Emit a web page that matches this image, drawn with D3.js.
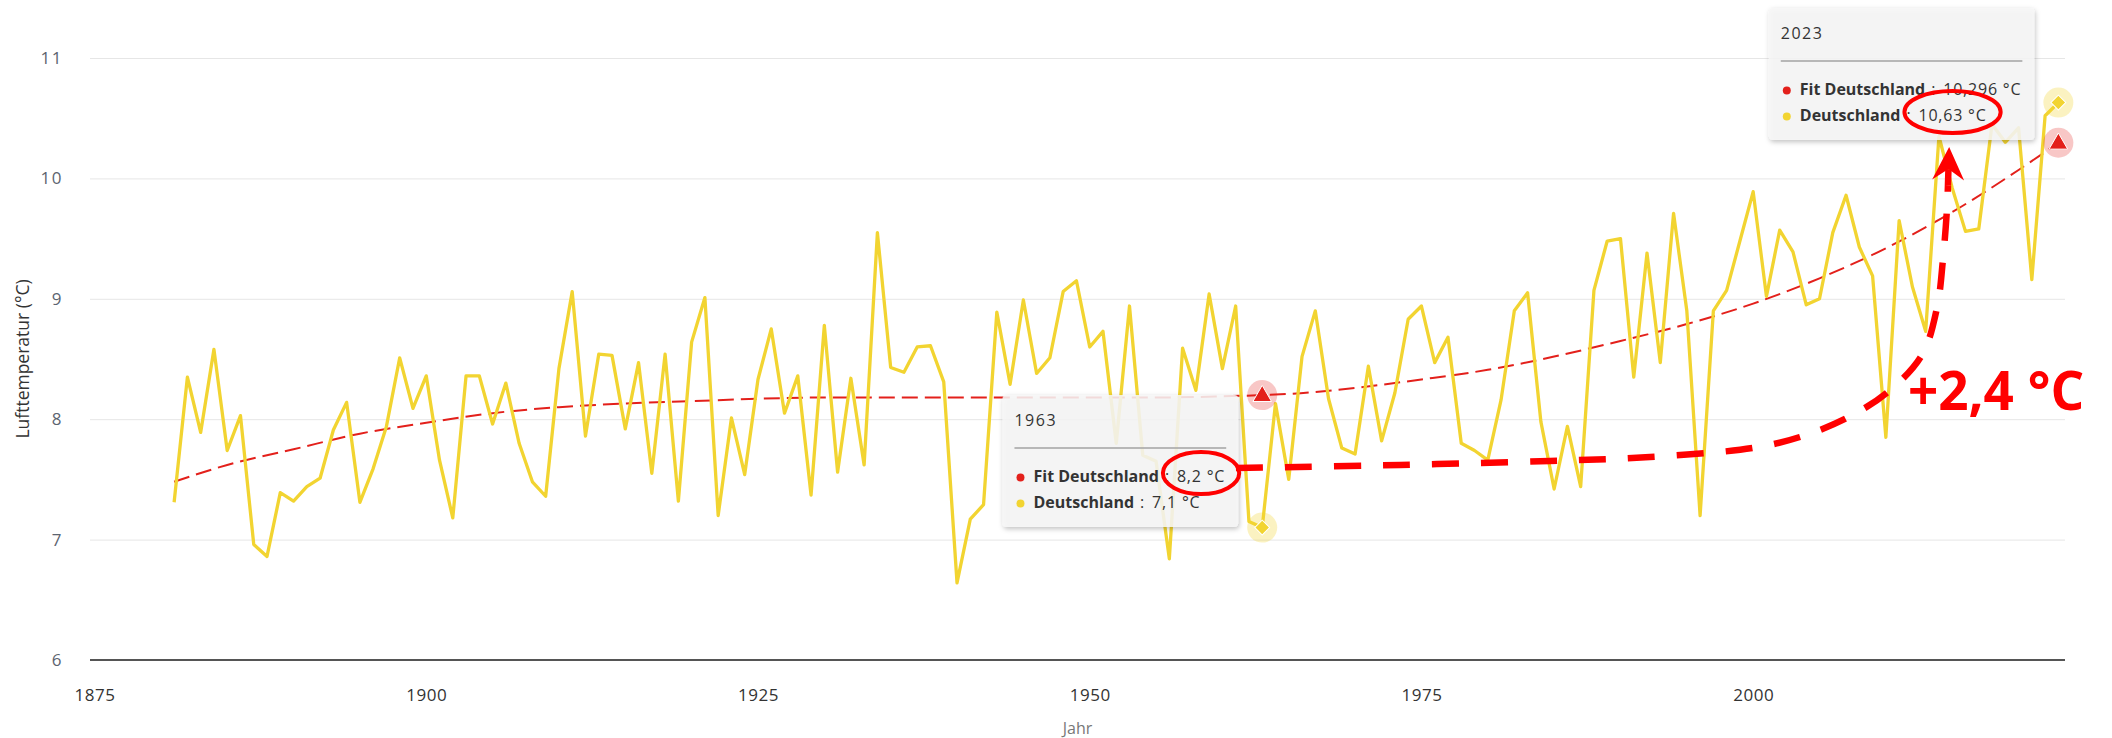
<!DOCTYPE html>
<html>
<head>
<meta charset="utf-8">
<script src="https://cdn.jsdelivr.net/npm/d3@7"></script>
<style>
  body { margin: 0; background: #ffffff; }
  svg { display: block; font-family: "Open Sans", "Noto Sans", sans-serif; }
</style>
</head>
<body>
<svg id="chart" width="2112" height="738"></svg>
<script>
// Annual mean air temperature in Germany (°C), 1881–2023
const firstYear = 1881;
const temperatures = [
  7.31, 8.35, 7.89, 8.58, 7.74, 8.03, 6.96, 6.86, 7.39, 7.32,   // 1881–1890
  7.44, 7.51, 7.91, 8.14, 7.31, 7.59, 7.94, 8.51, 8.09, 8.36,   // 1891–1900
  7.66, 7.18, 8.36, 8.36, 7.96, 8.30, 7.80, 7.48, 7.36, 8.42,   // 1901–1910
  9.06, 7.86, 8.54, 8.53, 7.92, 8.47, 7.55, 8.54, 7.32, 8.64,   // 1911–1920
  9.01, 7.20, 8.01, 7.54, 8.33, 8.75, 8.05, 8.36, 7.37, 8.78,   // 1921–1930
  7.56, 8.34, 7.62, 9.55, 8.43, 8.39, 8.60, 8.61, 8.31, 6.64,   // 1931–1940
  7.17, 7.29, 8.89, 8.29, 8.99, 8.38, 8.51, 9.06, 9.15, 8.60,   // 1941–1950
  8.73, 7.80, 8.94, 7.70, 7.65, 6.84, 8.59, 8.24, 9.04, 8.42,   // 1951–1960
  8.94, 7.15, 7.1,  8.13, 7.50, 8.52, 8.90, 8.17, 7.76, 7.71,   // 1961–1970
  8.44, 7.82, 8.22, 8.83, 8.94, 8.47, 8.68, 7.80, 7.74, 7.66,   // 1971–1980
  8.16, 8.90, 9.05, 7.98, 7.42, 7.94, 7.44, 9.07, 9.48, 9.50,   // 1981–1990
  8.35, 9.38, 8.47, 9.71, 8.90, 7.20, 8.90, 9.07, 9.48, 9.89,   // 1991–2000
  9.02, 9.57, 9.39, 8.95, 9.00, 9.55, 9.86, 9.43, 9.19, 7.85,   // 2001–2010
  9.65, 9.10, 8.73, 10.35, 9.92, 9.56, 9.58, 10.45, 10.30, 10.42, // 2011–2020
  9.16, 10.52, 10.63                                              // 2021–2023
];

// Fitted trend ("Fit Deutschland")
const fitYears  = [1881, 1885, 1890, 1895, 1900, 1905, 1910, 1915, 1920, 1925, 1930,
                   1935, 1940, 1945, 1950, 1955, 1960, 1963, 1965, 1970, 1975, 1980,
                   1985, 1990, 1995, 2000, 2005, 2010, 2015, 2020, 2023];
const fitValues = [7.48, 7.62, 7.75, 7.88, 7.97, 8.05, 8.10, 8.13, 8.15, 8.17, 8.18,
                   8.18, 8.18, 8.18, 8.18, 8.18, 8.19, 8.2, 8.21, 8.26, 8.33, 8.41,
                   8.52, 8.65, 8.79, 8.96, 9.17, 9.42, 9.72, 10.07, 10.296];

const yTicks = [6, 7, 8, 9, 10, 11];
const xTicks = [1875, 1900, 1925, 1950, 1975, 2000];

// Highlighted years with tooltips
const tooltipYears = [1963, 2023];

// Hand-drawn annotation arrow (year, °C) and its tip
const arrowPath = [
  [1961.02, 7.595], [1973.38, 7.620], [1984.68, 7.653], [1992.22, 7.686],
  [1999.98, 7.761], [2003.52, 7.852], [2007.06, 8.010], [2010.15, 8.226],
  [2012.72, 8.533], [2013.85, 8.924], [2014.30, 9.322], [2014.60, 9.738],
  [2014.68, 9.945]
];
const arrowTip = [2014.77, 10.26];
const deltaLabelPos = [2011.66, 8.08];

// ---------------------------------------------------------------
const RED = "#e3201b";
const YELLOW = "#f2d431";
const ANNOT = "#ff0000";

const svg = d3.select("#chart");
const plot = { left: 90, right: 2065, top: 58, bottom: 660 };

const x = d3.scaleLinear().domain([1874.66, 2023.5]).range([plot.left, plot.right]);
const y = d3.scaleLinear().domain([6, 11]).range([plot.bottom, plot.top]);

const defs = svg.append("defs");
const shadow = defs.append("filter").attr("id", "shadow")
  .attr("x", "-10%").attr("y", "-10%").attr("width", "125%").attr("height", "130%");
shadow.append("feDropShadow").attr("dx", 1).attr("dy", 2)
  .attr("stdDeviation", 2.5).attr("flood-color", "#000").attr("flood-opacity", 0.28);

// Y axis with grid lines
const yAxis = svg.append("g")
  .attr("transform", `translate(${plot.left},0)`)
  .call(d3.axisLeft(y).tickValues(yTicks).tickFormat(d3.format("d"))
    .tickSize(-(plot.right - plot.left)).tickPadding(27));
yAxis.select(".domain").remove();
yAxis.selectAll(".tick line").attr("stroke", "#e6e6e6").attr("stroke-width", 1);
yAxis.selectAll(".tick text")
  .attr("fill", "#5c6470").attr("font-size", 17).attr("letter-spacing", "1.5px")
  .attr("font-family", "'Open Sans', sans-serif");

// X axis
const xAxis = svg.append("g")
  .attr("transform", `translate(0,${plot.bottom})`)
  .call(d3.axisBottom(x).tickValues(xTicks).tickSize(0).tickPadding(29).tickFormat(d3.format("d")));
xAxis.select(".domain").remove();
xAxis.selectAll(".tick text")
  .attr("fill", "#333").attr("font-size", 17).attr("letter-spacing", "0.5px")
  .attr("font-family", "'Open Sans', sans-serif");

svg.append("line")
  .attr("x1", plot.left).attr("x2", plot.right)
  .attr("y1", y(6)).attr("y2", y(6))
  .attr("stroke", "#555").attr("stroke-width", 2);

// Axis titles
svg.append("text")
  .attr("transform", `translate(22,${(plot.top + plot.bottom) / 2}) rotate(-90)`)
  .attr("text-anchor", "middle").attr("dominant-baseline", "central")
  .attr("font-size", 17.5).attr("fill", "#333")
  .text("Lufttemperatur (°C)");
svg.append("text")
  .attr("x", (plot.left + plot.right) / 2).attr("y", 734)
  .attr("text-anchor", "middle").attr("font-size", 16).attr("fill", "#777")
  .text("Jahr");

// Series
const series = temperatures.map((v, i) => ({ year: firstYear + i, value: v }));
const fitSeries = fitYears.map((yr, i) => ({ year: yr, value: fitValues[i] }));

svg.append("path")
  .datum(fitSeries)
  .attr("fill", "none").attr("stroke", RED).attr("stroke-width", 2)
  .attr("stroke-dasharray", "16 7")
  .attr("d", d3.line().x(d => x(d.year)).y(d => y(d.value)).curve(d3.curveMonotoneX));

svg.append("path")
  .datum(series)
  .attr("fill", "none").attr("stroke", YELLOW).attr("stroke-width", 3.3)
  .attr("stroke-linejoin", "round")
  .attr("d", d3.line().x(d => x(d.year)).y(d => y(d.value)));

// Tooltips
const fmtC = v => String(v).replace(".", ",") + " °C";
const tipLayer = svg.append("g");

function drawTooltip(year, top, circledRow) {
  const fitV = fitValues[fitYears.indexOf(year)];
  const dataV = temperatures[year - firstYear];
  const g = tipLayer.append("g");
  const box = g.append("rect").attr("rx", 4).attr("ry", 4)
    .attr("fill", "rgba(247,247,247,0.86)").attr("filter", "url(#shadow)");
  g.append("text").attr("x", 12).attr("y", 31)
    .attr("font-size", 16).attr("letter-spacing", "1.5px").attr("fill", "#333")
    .text(year);

  const rows = [
    { name: "Fit Deutschland", color: RED, value: fitV },
    { name: "Deutschland", color: YELLOW, value: dataV }
  ];
  let maxEnd = 0;
  const valueBoxes = [];
  rows.forEach((r, i) => {
    const base = 87 + i * 26;
    g.append("circle").attr("cx", 18).attr("cy", base - 4.5).attr("r", 4).attr("fill", r.color);
    const lab = g.append("text").attr("x", 31).attr("y", base)
      .attr("font-size", 16).attr("font-weight", 700).attr("fill", "#333").text(r.name);
    const lw = lab.node().getComputedTextLength();
    g.append("text").attr("x", 31 + lw + 6).attr("y", base)
      .attr("font-size", 16).attr("fill", "#333").text(":");
    const vx = 31 + lw + 18;
    const val = g.append("text").attr("x", vx).attr("y", base)
      .attr("font-size", 16).attr("letter-spacing", "0.8px").attr("fill", "#333")
      .text(fmtC(r.value));
    const vw = val.node().getComputedTextLength();
    maxEnd = Math.max(maxEnd, vx + vw);
    valueBoxes.push({ x: vx, w: vw, base });
  });
  const w = maxEnd + 13;
  box.attr("width", w).attr("height", 132);
  g.append("line").attr("x1", 12).attr("x2", w - 12).attr("y1", 53).attr("y2", 53)
    .attr("stroke", "#a3a3a3").attr("stroke-width", 1.5);

  const vb = valueBoxes[circledRow];
  g.append("ellipse")
    .attr("cx", vb.x + vb.w / 2).attr("cy", vb.base - 9)
    .attr("rx", vb.w / 2 + 14).attr("ry", 21)
    .attr("fill", "none").attr("stroke", ANNOT).attr("stroke-width", 4);

  const left = x(year) - 24 - w;
  g.attr("transform", `translate(${left},${top})`);
}

drawTooltip(tooltipYears[0], y(fitValues[fitYears.indexOf(tooltipYears[0])]), 0);
drawTooltip(tooltipYears[1], 8, 1);

// Hover markers
const markers = svg.append("g");
tooltipYears.forEach(yr => {
  const px = x(yr);
  const fy = y(fitValues[fitYears.indexOf(yr)]);
  const dy = y(temperatures[yr - firstYear]);
  markers.append("circle").attr("cx", px).attr("cy", fy).attr("r", 15)
    .attr("fill", RED).attr("fill-opacity", 0.25);
  markers.append("path").attr("transform", `translate(${px},${fy + 1})`)
    .attr("d", d3.symbol(d3.symbolTriangle, 150)())
    .attr("fill", RED).attr("stroke", "#fff").attr("stroke-width", 1);
  markers.append("circle").attr("cx", px).attr("cy", dy).attr("r", 15)
    .attr("fill", YELLOW).attr("fill-opacity", 0.3);
  markers.append("path").attr("transform", `translate(${px},${dy}) rotate(45)`)
    .attr("d", d3.symbol(d3.symbolSquare, 110)())
    .attr("fill", YELLOW).attr("stroke", "#fff").attr("stroke-width", 1);
});

// Annotation arrow
svg.append("path")
  .datum(arrowPath)
  .attr("fill", "none").attr("stroke", ANNOT).attr("stroke-width", 6.5)
  .attr("stroke-dasharray", "27 22")
  .attr("d", d3.line().x(d => x(d[0])).y(d => y(d[1])).curve(d3.curveCatmullRom.alpha(0.5)));

(function arrowHead() {
  const tx = x(arrowTip[0]), ty = y(arrowTip[1]);
  const last = arrowPath[arrowPath.length - 1];
  const lx = x(last[0]), ly = y(last[1]);
  const ang = Math.atan2(ty - ly, tx - lx);
  const pts = [[0, 0], [-33, -16], [-22, 0], [-33, 16]];
  const cos = Math.cos(ang), sin = Math.sin(ang);
  const tr = pts.map(([a, b]) => [tx + a * cos - b * sin, ty + a * sin + b * cos]);
  svg.append("path")
    .attr("d", "M" + tr.map(p => p.join(",")).join("L") + "Z")
    .attr("fill", ANNOT);
  svg.append("line")
    .attr("x1", lx).attr("y1", ly)
    .attr("x2", tx - 22 * cos).attr("y2", ty - 22 * sin)
    .attr("stroke", ANNOT).attr("stroke-width", 6.5);
})();

// Temperature rise label
const fit1963 = fitValues[fitYears.indexOf(tooltipYears[0])];
const obs2023 = temperatures[tooltipYears[1] - firstYear];
svg.append("text")
  .attr("x", x(deltaLabelPos[0])).attr("y", y(deltaLabelPos[1]))
  .attr("font-size", 53).attr("font-weight", 700).attr("fill", ANNOT)
  .text("+" + (obs2023 - fit1963).toFixed(1).replace(".", ",") + " °C");
</script>
</body>
</html>
